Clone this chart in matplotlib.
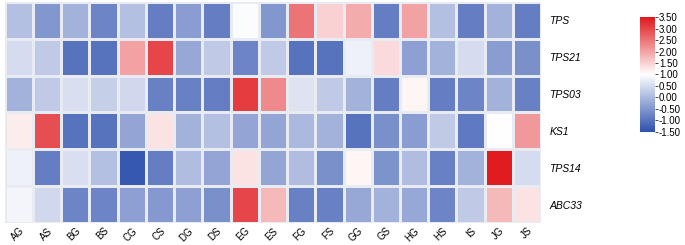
import numpy as np
import matplotlib.pyplot as plt
from matplotlib.colors import LinearSegmentedColormap

plt.rcParams['font.family'] = ['Liberation Sans', 'DejaVu Sans']

samples = ["AG", "AS", "BG", "BS", "CG", "CS", "DG", "DS", "EG", "ES",
           "FG", "FS", "GG", "GS", "HG", "HS", "IS", "JG", "JS"]
genes = ["TPS", "TPS21", "TPS03", "KS1", "TPS14", "ABC33"]

tps = [0.1, -0.5, -0.1, -0.75, 0.1, -0.85, -0.4, -0.85, 0.95, -0.5,
       2.5, 1.5, 1.9, -0.85, 2.0, 0.1, -0.85, -0.1, -0.85]
tps21 = [0.5, 0.25, -1.0, -1.0, 2.0, 3.0, -0.25, 0.25, -0.75, 0.25,
         -1.0, -1.0, 0.8, 1.4, -0.35, -0.1, 0.5, -0.4, -0.6]
tps03 = [-0.1, 0.25, 0.55, 0.3, 0.45, -0.8, -0.8, -0.85, 3.1, 2.25,
         0.6, 0.25, -0.1, -0.85, 1.1, -0.85, -0.75, -0.1, -0.8]
ks1 = [1.2, 2.9, -1.0, -1.0, -0.3, 1.3, -0.1, 0.1, -0.3, -0.3,
       0.0, -0.1, -1.0, -0.6, -0.4, 0.25, -0.9, 1.0, 2.1]
tps14 = [0.8, -0.85, 0.55, 0.1, -1.4, -0.85, 0.05, -0.3, 1.3, -0.3,
         0.05, -0.6, 1.1, -0.55, 0.05, -0.8, -0.1, 3.45, 0.5]
abc33 = [0.85, 0.45, -0.75, -0.75, -0.35, -0.45, -0.35, -0.6, 3.0, 1.75,
         -0.8, -0.8, -0.25, -0.1, -0.25, -0.75, 0.25, 1.75, 1.3]

data = np.array([tps, tps21, tps03, ks1, tps14, abc33])
cb_ticks = [-1.5, -1.0, -0.5, 0.0, 0.5, 1.0, 1.5, 2.0, 2.5, 3.0, 3.5]

cmap = LinearSegmentedColormap.from_list("bwr_custom", ["#2f51ae", "#ffffff", "#e0181c"])

fig = plt.figure(figsize=(6.85, 2.45), dpi=100)
ax = fig.add_axes([0.007, 0.09, 0.783, 0.902])
mesh = ax.pcolormesh(data, cmap=cmap, vmin=-1.5, vmax=3.5,
                     edgecolors="#e8ecf2", linewidth=0.8)
ax.set_xlim(0, len(samples))
ax.set_ylim(len(genes), 0)

ax.set_xticks(np.arange(len(samples)) + 0.5)
ax.set_xticklabels(samples, rotation=45, ha="right", rotation_mode="anchor", fontsize=7)
ax.yaxis.tick_right()
ax.set_yticks(np.arange(len(genes)) + 0.5)
ax.set_yticklabels(genes, fontstyle="italic", fontsize=7.5)
ax.tick_params(axis="x", length=0, pad=2)
ax.tick_params(axis="y", length=0, pad=6)
for s in ax.spines.values():
    s.set_visible(False)

cax = fig.add_axes([0.934, 0.462, 0.022, 0.468])
cb = fig.colorbar(mesh, cax=cax, ticks=cb_ticks)
cb.ax.set_yticklabels([f"{v:.2f}" for v in cb_ticks])
cb.ax.tick_params(labelsize=7, length=2, width=0.5, pad=1)
cb.outline.set_visible(False)

plt.savefig("out.png", dpi=100)
